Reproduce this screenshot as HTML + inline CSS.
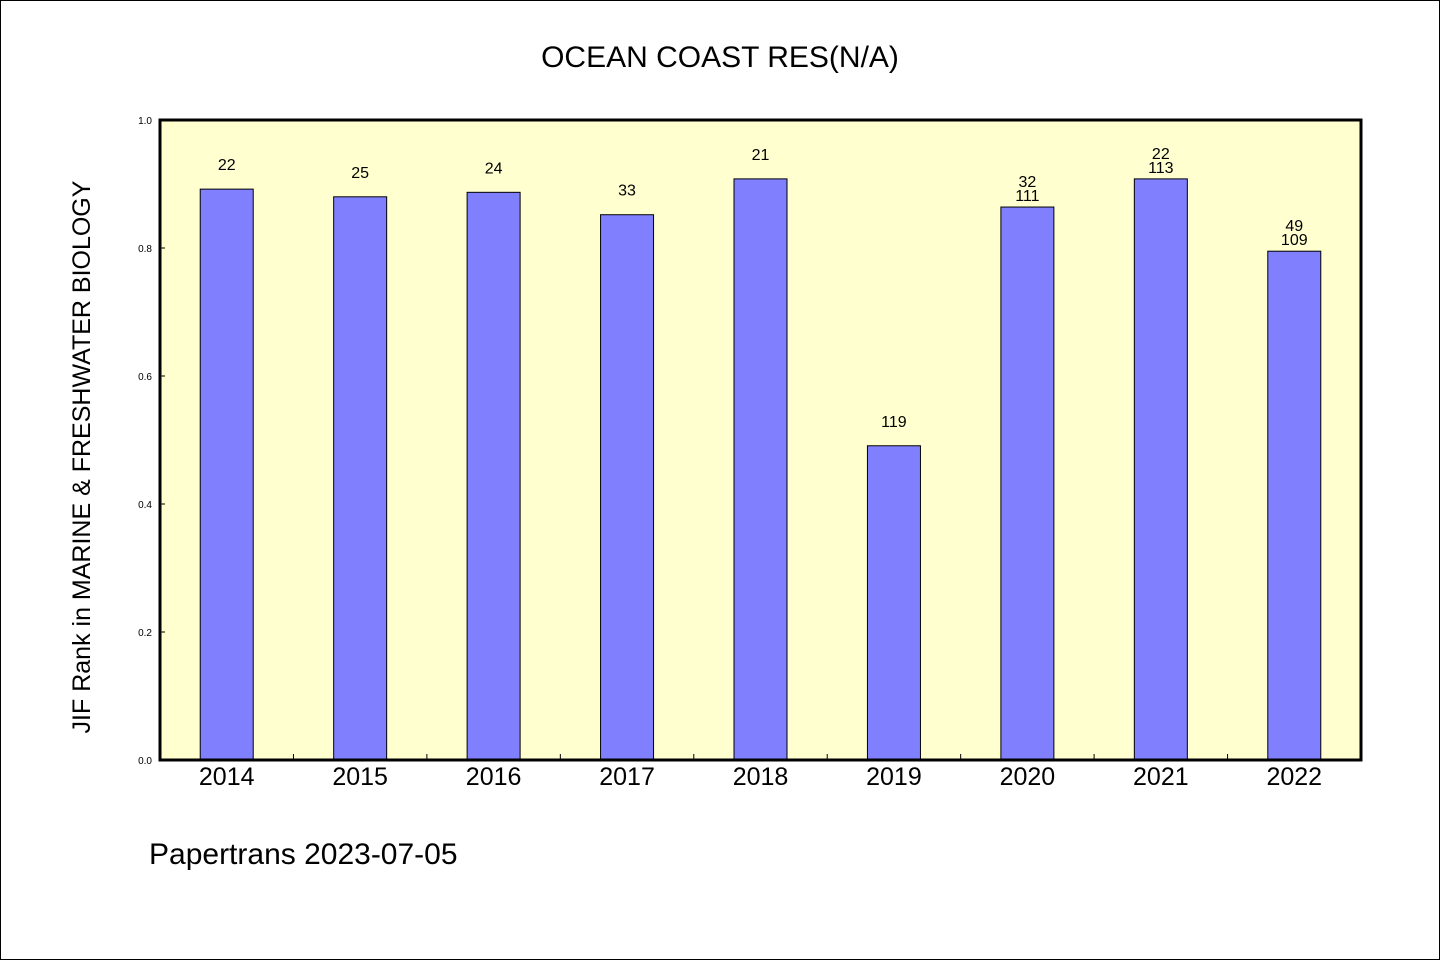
<!DOCTYPE html>
<html><head><meta charset="utf-8"><style>
html,body{margin:0;padding:0;background:#fff}
svg{display:block}
text{font-family:"WenQuanYi Zen Hei","Liberation Sans",sans-serif}
</style></head><body>
<svg id="chart" width="1440" height="960" viewBox="0 0 1440 960">
<rect x="0.5" y="0.5" width="1439" height="959" fill="#fff" stroke="#000"/>
<text x="720" y="67" font-size="30" text-anchor="middle">OCEAN COAST RES(N/A)</text>
<rect x="160" y="120" width="1201" height="640" fill="#ffffd0"/>
<g id="bars"></g>
<rect x="160" y="120" width="1201" height="640" fill="none" stroke="#000" stroke-width="3"/>
<text transform="translate(90,457) rotate(-90)" font-size="25" text-anchor="middle">JIF Rank in MARINE &amp; FRESHWATER BIOLOGY</text>
<text x="149" y="864" font-size="30">Papertrans 2023-07-05</text>
</svg>
<script>
const categories=["2014","2015","2016","2017","2018","2019","2020","2021","2022"];
const values=[0.892,0.880,0.887,0.852,0.908,0.491,0.864,0.908,0.795];
const topLabels=["22","25","24","33","21","119","32","22","49"];
const secondLabels=["","","","","","","111","113","109"];
const yTicks=[0,0.2,0.4,0.6,0.8,1.0];
const NS="http://www.w3.org/2000/svg";
const X0=160,W=1201,Y0=760,H=640;
const slot=W/categories.length;
const y=v=>Y0-v*H;
const xc=i=>X0+slot*(i+0.5);
const g=document.getElementById('bars');
function mk(t,a){const e=document.createElementNS(NS,t);for(const k in a)e.setAttribute(k,a[k]);g.appendChild(e);return e;}
yTicks.forEach(v=>{
  const l=mk('line',{x1:X0,x2:X0+5,y1:y(v),y2:y(v),stroke:'#000'});
  
  
  const t=mk('text',{x:X0-8,y:y(v)+4,'font-size':10,'text-anchor':'end'});
  t.textContent=v.toFixed(1);
  
  
});
categories.forEach((c,i)=>{
  if(i>0){const tk=mk('line',{x1:X0+slot*i,x2:X0+slot*i,y1:Y0,y2:Y0-6,stroke:'#000'});
  
  }
  const r=mk('rect',{x:xc(i)-26.5,y:y(values[i]),width:53,height:values[i]*H,fill:'#8080ff',stroke:'#000','stroke-width':1});
  
  
  const two=secondLabels[i]!=="";
  const t1=mk('text',{x:xc(i),y:y(values[i])-(two?20:19),'font-size':16,'text-anchor':'middle'});
  t1.textContent=topLabels[i];
  
  
  if(two){const t2=mk('text',{x:xc(i),y:y(values[i])-6,'font-size':16,'text-anchor':'middle'});
  t2.textContent=secondLabels[i];
  
  }
  const xl=mk('text',{x:xc(i),y:785,'font-size':25,'text-anchor':'middle'});
  xl.textContent=c;
  
  
});
</script>
</body></html>
